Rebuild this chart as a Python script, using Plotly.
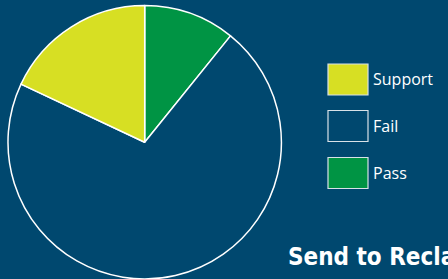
import plotly.graph_objects as go

labels = ["Support", "Fail", "Pass"]
values = [18.0, 71.2, 10.8]
colors = ["#D7DF23", "#00486F", "#009444"]
title_text = "Send to Reclamation"

BG = "#00486F"
W, H = 448, 279

fig = go.Figure()
# clockwise from 12 o'clock: Pass, Fail, Support
fig.add_trace(go.Pie(
    labels=labels[::-1], values=values[::-1], sort=False, direction="clockwise", rotation=0,
    marker=dict(colors=colors[::-1], line=dict(color="white", width=1.5)),
    textinfo="none", hoverinfo="label+percent", showlegend=False,
    domain=dict(x=[7.7 / W, 281.7 / W], y=[0, 0.98]),
))

# custom legend (large swatches)
shapes, annotations = [], []
sq_x0, sq_x1 = 328, 368
centers = [79.5, 126, 173]
for lab, col, cy in zip(labels, colors, centers):
    shapes.append(dict(type="rect", xref="paper", yref="paper",
                       x0=sq_x0 / W, x1=sq_x1 / W,
                       y0=1 - (cy + 15.5) / H, y1=1 - (cy - 15.5) / H,
                       fillcolor=col, line=dict(color="#D8E2E8", width=1.2)))
    annotations.append(dict(text=lab, xref="paper", yref="paper", x=371 / W, y=1 - cy / H,
                            xanchor="left", yanchor="middle", showarrow=False,
                            font=dict(family="Open Sans, sans-serif", size=16, color="white")))

annotations.append(dict(text="<b>" + title_text + "</b>", xref="paper", yref="paper",
                        x=286 / W, y=1 - 257 / H, xanchor="left", yanchor="middle",
                        showarrow=False,
                        font=dict(family="DejaVu Sans Condensed, Liberation Sans Narrow, sans-serif",
                                  size=24, color="white")))

fig.update_layout(
    width=W, height=H, margin=dict(l=0, r=0, t=0, b=0),
    paper_bgcolor=BG, plot_bgcolor=BG,
    shapes=shapes, annotations=annotations,
)
fig.write_html("out.html", config={"displayModeBar": False},
               post_script="document.body.style.margin='0';document.body.style.background='#00486F';")
